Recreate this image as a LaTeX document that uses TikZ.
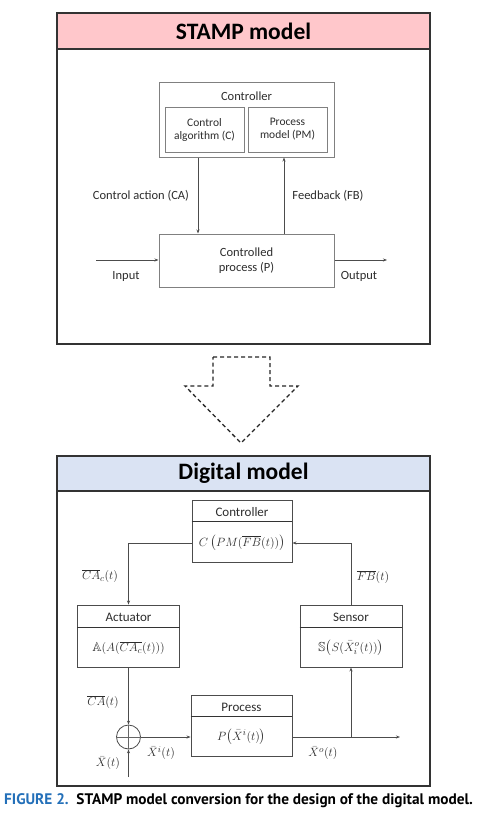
\documentclass[tikz,border=0pt]{standalone}
\usepackage{amsmath,amssymb}
\usepackage{fontspec}
\setmainfont{Carlito}
\newfontfamily\capfont{PT Sans}
\usetikzlibrary{arrows.meta,calc}
\definecolor{pinkband}{RGB}{255,199,203}
\definecolor{blueband}{RGB}{218,227,243}
\definecolor{capblue}{RGB}{36,112,185}
\definecolor{txtgray}{RGB}{45,45,45}
\begin{document}
\begin{tikzpicture}[x=1pt,y=-1pt,
  panel/.style={draw=black!80,line width=1.6pt},
  sbox/.style={draw=black!50,line width=1pt,inner sep=0pt},
  dbox/.style={draw=black!70,line width=0.9pt,inner sep=0pt},
  arr/.style={draw=black!70,line width=0.8pt,-{Stealth[length=4pt,width=3pt]}},
  ln/.style={draw=black!70,line width=0.8pt},
  stxt/.style={text=txtgray,font=\fontsize{12.5}{14}\selectfont,align=center,inner sep=0pt},
  itxt/.style={text=txtgray,font=\fontsize{11.5}{14}\selectfont,align=center,inner sep=0pt},
  dtxt/.style={text=txtgray,font=\fontsize{13}{15}\selectfont,align=center,inner sep=0pt},
  mtxt/.style={text=txtgray,font=\fontsize{13}{15}\selectfont,inner sep=0pt},
  ttl/.style={font=\fontsize{23.5}{26}\selectfont\bfseries,inner sep=0pt}
]
\useasboundingbox (0,0) rectangle (481,817);
\fill[white] (0,0) rectangle (481,817);

% ---------- STAMP panel ----------
\fill[pinkband] (57,13) rectangle (430,49);
\draw[panel] (57,13) rectangle (430,344);
\draw[panel] (57,49) -- (430,49);
\node[ttl] (t1) at (243.5,31) {STAMP model};

\node[sbox,minimum width=175pt,minimum height=75pt] (ctrl) at (246.5,119.5) {};
\node[stxt] (ctrltxt) at (246.5,96) {Controller};
\node[sbox,minimum width=79pt,minimum height=45pt] (calg) at (204.5,129.5) {};
\node[itxt] (calgtxt) at (204.5,129.5) {Control\\[-1pt]algorithm (C)};
\node[sbox,minimum width=79pt,minimum height=45pt] (pm) at (287.5,129.5) {};
\node[itxt] (pmtxt) at (287.5,129.5) {Process\\[-1pt]model (PM)};

\node[sbox,minimum width=175pt,minimum height=53pt] (proc) at (246.5,260.5) {};
\node[stxt] (proctxt) at (246.5,261) {Controlled\\[1pt]process (P)};

\draw[arr] ([xshift=-48.5pt]ctrl.south) -- ([xshift=-48.5pt]proc.north);
\draw[arr] ([xshift=37.5pt]proc.north) -- ([xshift=37.5pt]ctrl.south);
\node[stxt] (catxt) at (141,196) {Control action (CA)};
\node[stxt] (fbtxt) at (328,196) {Feedback (FB)};

\coordinate (inp) at (96,260);
\coordinate (outp) at (387,260);
\draw[arr] (inp) -- (inp -| proc.west);
\draw[arr] (outp -| proc.east) -- (outp);
\node[stxt] (inptxt) at (126,276) {Input};
\node[stxt] (outtxt) at (359,276) {Output};

% ---------- dashed arrow ----------
\draw[black!85,line width=1.3pt,dash pattern=on 4pt off 3pt]
  (213,357) -- (270,357) -- (270,386) -- (298,386) -- (241,443) -- (185,386) -- (213,386) -- cycle;

% ---------- Digital panel ----------
\fill[blueband] (57,456) rectangle (430,491);
\draw[panel] (57,456) rectangle (430,786);
\draw[panel] (57,491) -- (430,491);
\node[ttl] (t2) at (243.5,473) {Digital model};

% controller
\node[dbox,minimum width=100pt,minimum height=62pt] (dc) at (242,531) {};
\draw[black!80,line width=1.3pt] ([yshift=-22pt]dc.north west) -- ([yshift=-22pt]dc.north east);
\node[dtxt] (dctxt) at (242,512) {Controller};
\node[mtxt] (dcf) at (242,543) {$C\left(PM(\overline{FB}(t))\right)$};

% actuator
\node[dbox,minimum width=102pt,minimum height=62pt] (act) at (128.5,636) {};
\draw[black!80,line width=1.3pt] ([yshift=-23pt]act.north west) -- ([yshift=-23pt]act.north east);
\node[dtxt] (acttxt) at (128.5,617) {Actuator};
\node[mtxt] (actf) at (128.5,648) {$\mathbb{A}(A(\overline{CA_c}(t)))$};

% sensor
\node[dbox,minimum width=102pt,minimum height=62pt] (sens) at (351,636) {};
\draw[black!80,line width=1.3pt] ([yshift=-23pt]sens.north west) -- ([yshift=-23pt]sens.north east);
\node[dtxt] (senstxt) at (351,617) {Sensor};
\node[mtxt] (sensf) at (351,648) {$\mathbb{S}\bigl(S(\bar{X}_i^o(t))\bigr)$};

% process
\node[dbox,minimum width=101pt,minimum height=61pt] (dp) at (241.5,725.5) {};
\draw[black!80,line width=1.3pt] ([yshift=-22pt]dp.north west) -- ([yshift=-22pt]dp.north east);
\node[dtxt] (dptxt) at (241.5,707) {Process};
\node[mtxt] (dpf) at (241.5,737) {$P\bigl(\bar{X}^i(t)\bigr)$};

% summing junction
\node[draw=black!70,line width=0.8pt,circle,minimum size=24pt,inner sep=0pt] (sum) at (128.5,737) {};
\draw[black!60,line width=0.6pt] (sum.north) -- (sum.south) (sum.west) -- (sum.east);

% connectors
\draw[arr] ([yshift=-12pt]dc.west) -| (act.north);
\draw[arr] (sens.north) |- ([yshift=-12pt]dc.east);
\draw[arr] (act.south) -- (sum.north);
\coordinate (xin) at (128.5,777);
\draw[arr] (xin) -- (sum.south);
\draw[arr] (sum.east) -- (sum.east -| dp.west);
\coordinate (dout) at (400,737);
\coordinate (br) at (351,737);
\draw[arr] (sum.east -| dp.east) -- (dout);
\draw[arr] (br) -- (sens.south);

% labels
\node[mtxt] (lca) at (100,576) {$\overline{CA}_c(t)$};
\node[mtxt] (lfb) at (373,577) {$\overline{FB}(t)$};
\node[mtxt] (lcat) at (103,702) {$\overline{CA}(t)$};
\node[mtxt] (lx) at (108,763) {$\bar{X}(t)$};
\node[mtxt] (lxi) at (161,753) {$\bar{X}^i(t)$};
\node[mtxt] (lxo) at (323,753) {$\bar{X}^o(t)$};

% caption
\node[anchor=west,inner sep=0pt,font=\capfont\bfseries\fontsize{15.3}{18}\selectfont] (cap) at (4,801)
  {\textcolor{capblue}{FIGURE 2.}\hspace{0.5em}STAMP model conversion for the design of the digital model.};
\end{tikzpicture}
\end{document}
